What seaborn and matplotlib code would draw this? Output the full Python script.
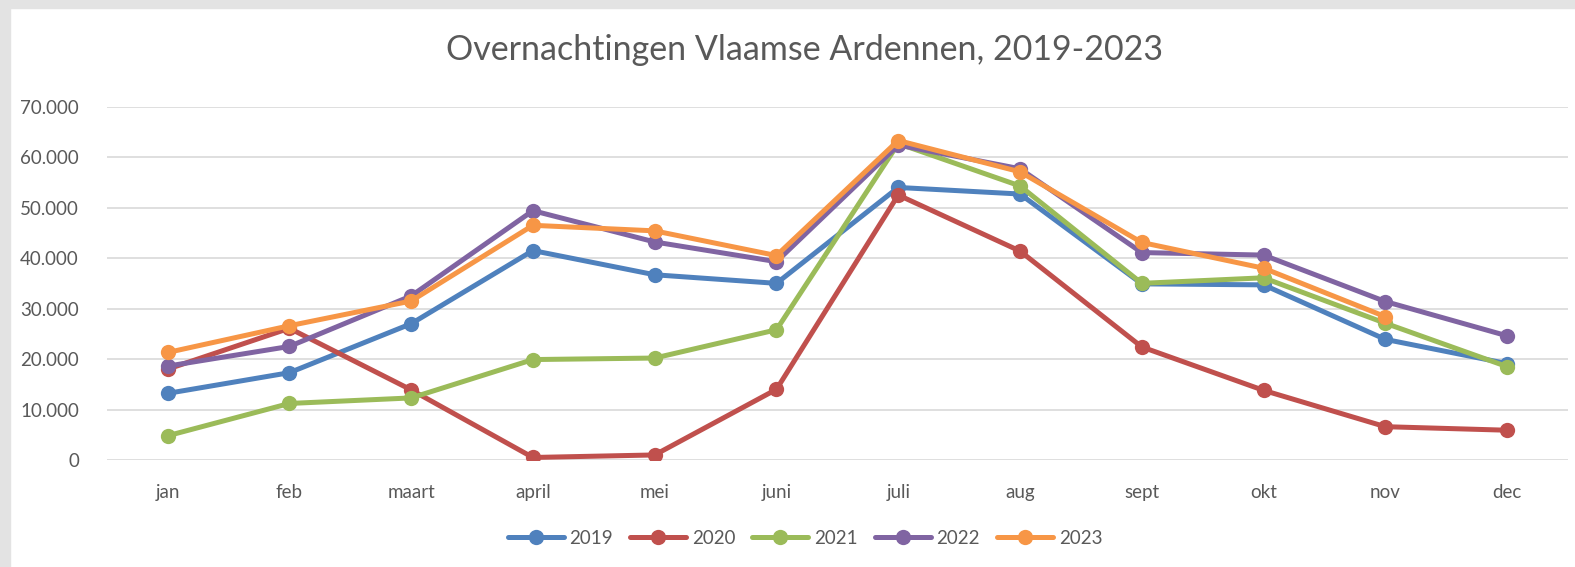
import numpy as np
import matplotlib
matplotlib.use('Agg')
import matplotlib.pyplot as plt
import pandas as pd
import seaborn as sns
from matplotlib.patches import Rectangle

######################################### DATA #########################################

maanden = ['jan', 'feb', 'maart', 'april', 'mei', 'juni', 'juli', 'aug', 'sept', 'okt', 'nov', 'dec']
jaren = ['2019', '2020', '2021', '2022', '2023']

v2019 = [13200, 17300, 27000, 41500, 36700, 35000, 54000, 52700, 34900, 34700, 23900, 19100]
v2020 = [18000, 26100, 13900, 500, 1000, 14000, 52500, 41400, 22400, 13800, 6600, 5900]
v2021 = [4800, 11200, 12300, 19900, 20200, 25800, 62700, 54300, 35000, 36100, 27100, 18500]
v2022 = [18600, 22500, 32500, 49400, 43200, 39300, 62400, 57700, 41100, 40600, 31400, 24600]
v2023 = [21300, 26600, 31500, 46500, 45400, 40500, 63300, 57100, 43100, 38000, 28400]

ytick_labels = ['0', '10.000', '20.000', '30.000', '40.000', '50.000', '60.000', '70.000']

kleuren = ['#4F81BD', '#C0504D', '#9BBB59', '#8064A2', '#F79646']

rows = []
for jaar, waarden in zip(jaren, [v2019, v2020, v2021, v2022, v2023]):
    for m, w in zip(maanden, waarden):
        rows.append({'maand': m, 'overnachtingen': w, 'jaar': jaar})
df = pd.DataFrame(rows)

######################################### PLOT #########################################

sns.set_style('white')
plt.rcParams['font.family'] = ['Lato', 'DejaVu Sans']
grijs = '#595959'

fig = plt.figure(figsize=(15.75, 5.67), dpi=100)
fig.patch.set_facecolor('white')
# grey frame strips (top and left)
fig.patches.append(Rectangle((0, 1 - 8 / 567), 1, 8 / 567, transform=fig.transFigure, color='#e3e3e3', zorder=0))
fig.patches.append(Rectangle((0, 0), 10 / 1575, 1, transform=fig.transFigure, color='#e3e3e3', zorder=0))

ax = fig.add_axes([106.7 / 1575, 107 / 567, (1568 - 106.7) / 1575, (460 - 106.7) / 567])

sns.lineplot(data=df, x='maand', y='overnachtingen', hue='jaar', hue_order=jaren,
             palette=kleuren, marker='o', markersize=11, markeredgewidth=0,
             linewidth=3.6, estimator=None, sort=False, ax=ax)

ax.set_xlim(-0.5, 11.5)
ax.set_ylim(0, 70000)
ax.set_yticks(np.arange(0, 70001, 10000))
ax.set_yticklabels(ytick_labels)
ax.yaxis.grid(True, color='#d9d9d9', linewidth=1.2)
ax.set_axisbelow(True)
for s in ax.spines.values():
    s.set_visible(False)
ax.tick_params(axis='both', length=0, labelsize=13.5, labelcolor=grijs)
ax.tick_params(axis='y', pad=20)
ax.tick_params(axis='x', pad=17)
ax.set_xlabel('')
ax.set_ylabel('')

fig.text(0.511, 1 - 50 / 567, 'Overnachtingen Vlaamse Ardennen, 2019-2023', ha='center', va='center',
         fontsize=24.5, color=grijs)

handles, labels = ax.get_legend_handles_labels()
ax.legend(handles, labels, loc='center', bbox_to_anchor=(0.511, 29 / 567), bbox_transform=fig.transFigure,
          ncol=5, frameon=False, fontsize=13.5, labelcolor=grijs, handlelength=3.0,
          handletextpad=0.3, columnspacing=0.9)

plt.savefig('out.png', dpi=100, facecolor='white')
